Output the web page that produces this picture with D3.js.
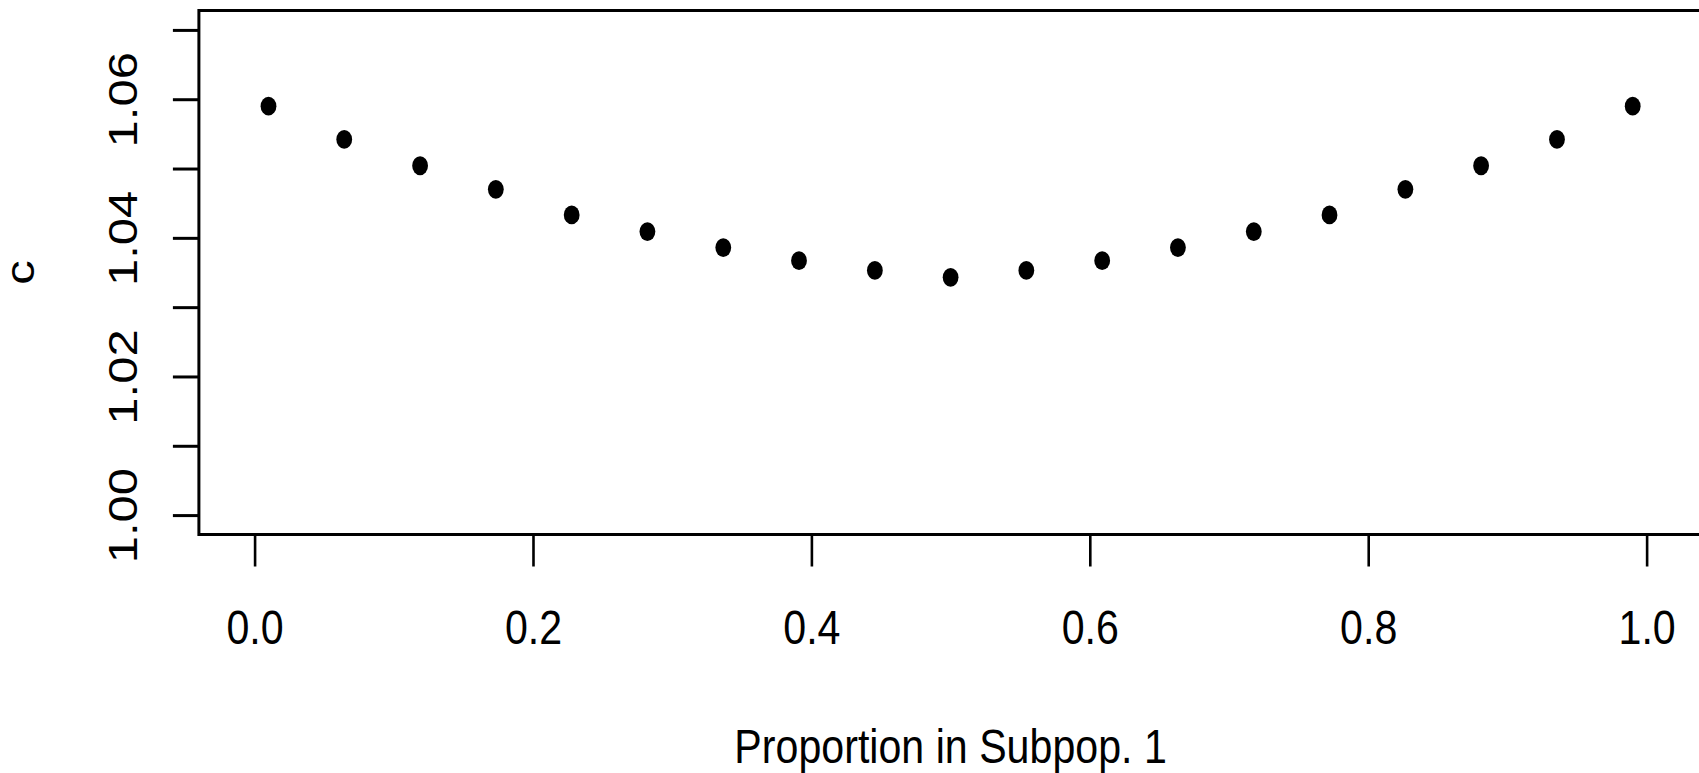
<!DOCTYPE html>
<html>
<head>
<meta charset="utf-8">
<script src="https://cdn.jsdelivr.net/npm/d3@7"></script>
<style>
html,body{margin:0;padding:0;background:#fff;}
svg{display:block;}
text{font-family:"Liberation Sans",Arial,Helvetica,sans-serif;fill:#000;}
</style>
</head>
<body>
<svg id="chart" width="1699" height="773"></svg>
<script>
const proportion = [0.01, 0.0644, 0.1189, 0.1733, 0.2278, 0.2822, 0.3367, 0.3911, 0.4456, 0.5,
                    0.5544, 0.6089, 0.6633, 0.7178, 0.7722, 0.8267, 0.8811, 0.9356, 0.99];
const cValues = [1.0590, 1.0542, 1.0504, 1.0470, 1.0433, 1.0409, 1.0386, 1.0367, 1.0353, 1.0343,
                 1.0353, 1.0367, 1.0386, 1.0409, 1.0433, 1.0470, 1.0504, 1.0542, 1.0590];
const xTicks = [0, 0.2, 0.4, 0.6, 0.8, 1.0];
const yTicks = [1.00, 1.01, 1.02, 1.03, 1.04, 1.05, 1.06, 1.07];
const yTickLabels = {"1.00":"1.00","1.02":"1.02","1.04":"1.04","1.06":"1.06"};
const xLabel = "Proportion in Subpop. 1";
const yLabel = "c";

const svg = d3.select("#chart");
const SX = 0.84;      // horizontal squeeze of the original image
const FS = 49;

const x = d3.scaleLinear().domain([-0.04, 1.04]).range([198.9, 1702.3]);
const y = d3.scaleLinear().domain([0.9972, 1.0728]).range([534.5, 10.5]);

// x axis
const gx = svg.append("g").attr("transform", `translate(0,${y.range()[0]})`)
  .call(d3.axisBottom(x).tickValues(xTicks).tickSize(32).tickFormat(d3.format(".1f")));
gx.select(".domain").remove();
gx.selectAll(".tick line").attr("stroke", "#000").attr("stroke-width", 2.6);
gx.selectAll(".tick text")
  .attr("y", 0).attr("dy", 0)
  .attr("transform", `translate(0,109) scale(${SX},1)`)
  .style("font-size", FS + "px").attr("fill", "#000")
  .attr("text-anchor", "middle");

// y axis
const gy = svg.append("g").attr("transform", `translate(${x.range()[0]},0)`)
  .call(d3.axisLeft(y).tickValues(yTicks).tickSize(26)
    .tickFormat(d => yTickLabels[d.toFixed(2)] || ""));
gy.select(".domain").remove();
gy.selectAll(".tick line").attr("stroke", "#000").attr("stroke-width", 3);
gy.selectAll(".tick text")
  .attr("x", 0).attr("y", 0).attr("dy", 0)
  .attr("transform", `translate(-62,0) scale(${SX},1) rotate(-90)`)
  .style("font-size", FS + "px").attr("fill", "#000")
  .attr("text-anchor", "middle");

// box
svg.append("rect")
  .attr("x", x.range()[0]).attr("y", y.range()[1])
  .attr("width", x.range()[1] - x.range()[0])
  .attr("height", y.range()[0] - y.range()[1])
  .attr("fill", "none").attr("stroke", "#000").attr("stroke-width", 3);

// points
svg.append("g").selectAll("ellipse")
  .data(proportion.map((p, i) => ({p, c: cValues[i]})))
  .join("ellipse")
  .attr("cx", d => x(d.p)).attr("cy", d => y(d.c))
  .attr("rx", 7.9).attr("ry", 9.4).attr("fill", "#000");

// labels
svg.append("text")
  .attr("transform", `translate(${(x.range()[0] + x.range()[1]) / 2},763) scale(${SX},1)`)
  .attr("text-anchor", "middle").style("font-size", FS + "px").text(xLabel);
svg.append("text")
  .attr("transform", `translate(33.5,${(y.range()[0] + y.range()[1]) / 2}) scale(${SX},1) rotate(-90)`)
  .attr("text-anchor", "middle").style("font-size", FS + "px").text(yLabel);
</script>
</body>
</html>
